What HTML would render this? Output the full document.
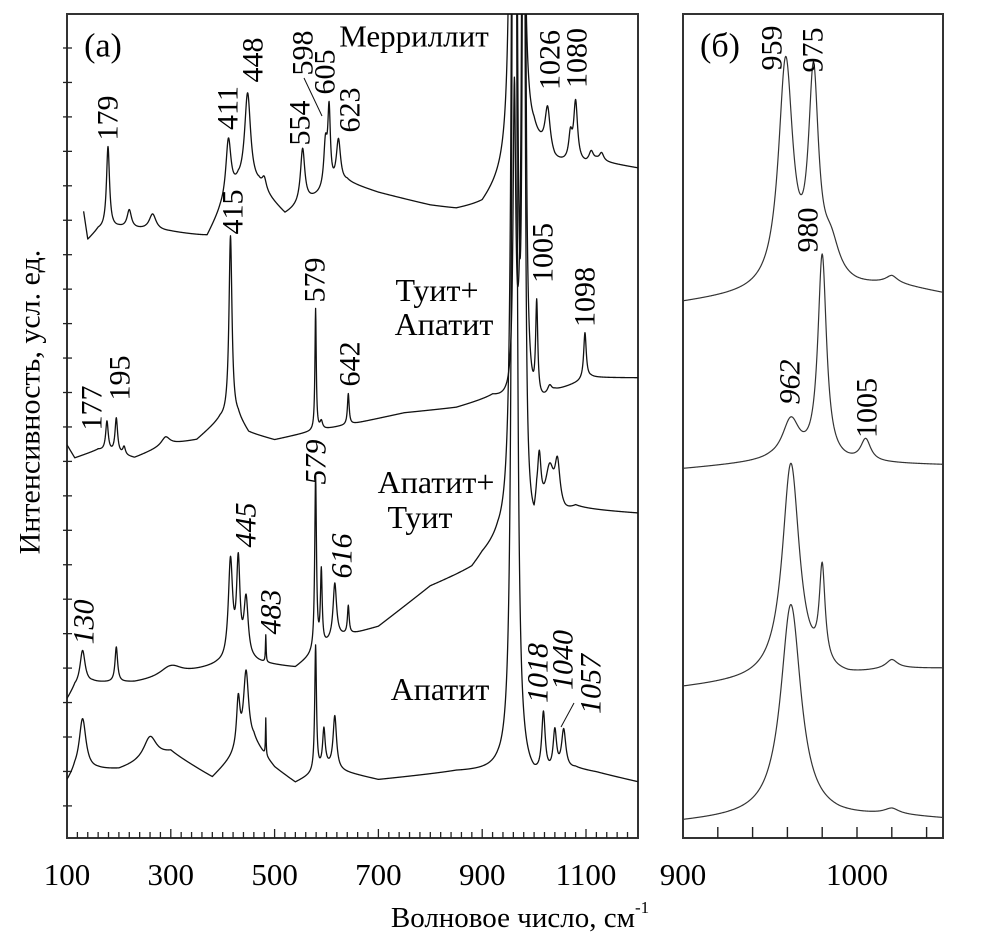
<!DOCTYPE html>
<html><head><meta charset="utf-8"><style>
html,body{margin:0;padding:0;background:#fff;}
svg{display:block;}
svg text{font-family:"Liberation Serif","DejaVu Serif",serif;}
</style></head><body>
<svg id="chart" width="1006" height="944" viewBox="0 0 1006 944" xmlns="http://www.w3.org/2000/svg">
<defs>
<clipPath id="clipA"><rect x="67" y="14" width="571" height="824"/></clipPath>
<clipPath id="clipB"><rect x="683" y="14" width="260" height="824"/></clipPath>
</defs>
<g id="panelA"></g>
<g id="panelB"></g>
<g id="labels"></g>
</svg>
<script>
// ---- Panel (a) data: baselines [wavenumber, intensity] and peaks [center, amplitude, hwhm] ----
const spec1Base = [[132,626],[140,598],[160,608],[200,610],[300,606],[370,601],[395,625],[430,650],[470,650],[520,623],[560,635],[640,655],[700,645],[800,632],[850,628],[900,632],[1000,690],[1040,672],[1100,672],[1120,676],[1242,666]];
const spec1Peaks = [[179,82,3.5],[220,18,5],[265,16,8],[411,60,6],[448,93,7],[480,12,5],[554,55,5],[598,45,4],[605,75,3],[623,45,5],[959,1500,3],[975,1500,3],[1026,45,6],[1070,25,4],[1080,60,4.5],[1110,10,5],[1130,8,5]];
const spec2Base = [[100,393],[115,380],[160,388],[230,380],[290,393],[350,398],[395,418],[430,420],[450,405],[500,398],[560,405],[610,410],[660,415],[750,425],[850,430],[920,440],[1000,425],[1040,445],[1110,460],[1242,460]];
const spec2Peaks = [[177,30,3],[195,35,3],[210,8,3],[290,8,10],[415,183,3.5],[579,122,1.5],[590,8,3],[642,31,2],[962,300,3],[980,1500,2.5],[1005,95,2.5],[1030,8,5],[1098,47,3]];
const spec3Base = [[100,138],[115,150],[150,155],[230,155],[300,160],[390,172],[460,175],[540,170],[620,200],[660,205],[700,211],[800,251],[880,268],[900,280],[930,292],[1000,290],[1005,310],[1060,320],[1080,328],[1242,323]];
const spec3Peaks = [[130,35,6],[195,35,3],[300,12,25],[415,100,5],[430,95,4],[445,60,5],[483,27,0.8],[579,175,2],[590,75,2],[616,55,4],[642,28,2],[962,2500,3],[980,1000,2.5],[1010,50,4],[1030,45,10],[1045,45,6]];
const spec4Base = [[100,55],[115,65],[160,68],[200,68],[300,85],[380,60],[420,80],[460,95],[500,70],[540,55],[600,70],[640,65],[700,58],[850,66],[930,66],[1000,55],[1080,68],[1120,65],[1242,51]];
const spec4Peaks = [[130,53,8],[260,23,15],[430,50,4],[445,75,6],[483,37,0.7],[579,126,2],[595,38,3],[616,53,4],[962,2500,3],[1018,60,4],[1040,40,4],[1057,40,5]];
// ---- Panel (б) data ----
const specB1Base = [[900,535],[950,545],[990,548],[1000,549],[1020,553],[1050,544]];
const specB1Peaks = [[959,225,5],[975,200,3.5],[985,35,6],[1020,6,4]];
const specB2Base = [[900,369],[950,376],[995,374],[1020,374],[1050,373]];
const specB2Peaks = [[962,40,6],[980,205,3],[1005,22,3.5]];
const specB3Base = [[900,150],[950,158],[995,160],[1020,168],[1050,169]];
const specB3Peaks = [[962,215,6],[980,95,2],[1020,8,4]];
const specB4Base = [[900,16],[950,22],[990,20],[1020,22],[1050,19]];
const specB4Peaks = [[962,212,7],[1020,5,5]];
const xTicksA = [100,300,500,700,900,1100];
const xTicksB = [900,1000];

const NS = "http://www.w3.org/2000/svg";
function xA(w){return 67 + (w-100)*0.519;}
function xB(w){return 683 + (w-900)*1.74;}
function yS(v){return 838 - v;}
function interp(base,w){
  if(w<=base[0][0])return base[0][1];
  for(let i=1;i<base.length;i++){if(w<=base[i][0]){const a=base[i-1],b=base[i];return a[1]+(b[1]-a[1])*(w-a[0])/(b[0]-a[0]);}}
  return base[base.length-1][1];
}
function intensity(base,peaks,w){
  let v=interp(base,w);
  for(const p of peaks){const d=w-p[0];v+=p[1]*p[2]*p[2]/(d*d+p[2]*p[2]);}
  return v;
}
function mk(tag,attrs,parent){const e=document.createElementNS(NS,tag);for(const k in attrs)e.setAttribute(k,attrs[k]);parent.appendChild(e);return e;}
function drawSpec(parent,base,peaks,w0,w1,step,xf,name,stroke,sw,clip){
  let d="";
  for(let w=w0;w<=w1;w+=step){const v=intensity(base,peaks,w);d+=(d?"L":"M")+xf(w).toFixed(2)+","+yS(v).toFixed(2);}
  const p=mk("path",{d:d,fill:"none",stroke:stroke,"stroke-width":sw,"clip-path":clip,"stroke-linejoin":"round"},parent);
  
  
}
const gA=document.getElementById("panelA"), gB=document.getElementById("panelB"), gL=document.getElementById("labels");
const fa=mk("rect",{x:67,y:14,width:571,height:824,fill:"none",stroke:"#333","stroke-width":2},gA);


const fb=mk("rect",{x:683,y:14,width:260,height:824,fill:"none",stroke:"#333","stroke-width":2},gB);


drawSpec(gA,spec1Base,spec1Peaks,132,1210,0.5,xA,"merrillite-spectrum","#111",1.3,"url(#clipA)");
drawSpec(gA,spec2Base,spec2Peaks,100,1210,0.5,xA,"tuite-apatite-spectrum","#111",1.3,"url(#clipA)");
drawSpec(gA,spec3Base,spec3Peaks,100,1210,0.5,xA,"apatite-tuite-spectrum","#111",1.3,"url(#clipA)");
drawSpec(gA,spec4Base,spec4Peaks,100,1210,0.5,xA,"apatite-spectrum","#111",1.3,"url(#clipA)");
drawSpec(gB,specB1Base,specB1Peaks,900,1050,0.25,xB,"merrillite-spectrum-zoom","#333",1.2,"url(#clipB)");
drawSpec(gB,specB2Base,specB2Peaks,900,1050,0.25,xB,"tuite-apatite-spectrum-zoom","#333",1.2,"url(#clipB)");
drawSpec(gB,specB3Base,specB3Peaks,900,1050,0.25,xB,"apatite-tuite-spectrum-zoom","#333",1.2,"url(#clipB)");
drawSpec(gB,specB4Base,specB4Peaks,900,1050,0.25,xB,"apatite-spectrum-zoom","#333",1.2,"url(#clipB)");
for(let w=120;w<=1190;w+=20){const major=(w%200===100);const t=mk("line",{x1:xA(w),x2:xA(w),y1:838,y2:major?829:832,stroke:"#222","stroke-width":1.3},gA);

}
for(let y=48;y<=810;y+=34.45){const t=mk("line",{x1:63,x2:72,y1:y,y2:y,stroke:"#222","stroke-width":1.3},gA);

}
for(let w=920;w<=1040;w+=20){const t=mk("line",{x1:xB(w),x2:xB(w),y1:838,y2:827,stroke:"#222","stroke-width":1.4},gB);

}
for(const w of xTicksA){const t=mk("text",{x:xA(w),y:885,"font-size":31,"text-anchor":"middle",fill:"#000","font-family":"Liberation Serif, serif"},gA);t.textContent=w;

}
for(const w of xTicksB){const t=mk("text",{x:xB(w),y:885,"font-size":31,"text-anchor":"middle",fill:"#000","font-family":"Liberation Serif, serif"},gB);t.textContent=w;

}
function txt(s,x,y,size,name,opts){opts=opts||{};const t=mk("text",{x:x,y:y,"font-size":size,"text-anchor":"middle","dominant-baseline":"central",fill:"#000","font-family":"Liberation Serif, serif"},gL);
if(opts.rot)t.setAttribute("transform","rotate(-90 "+x+" "+y+")");
if(opts.it)t.setAttribute("font-style","italic");
t.textContent=s;


return t;}
txt("(a)",103,46,34,"panel-a-label");
txt("(б)",720,46,34,"panel-b-label");
txt("Мерриллит",414,36,31,"label-merrillite");
txt("Туит+",437,290,32,"label-tuite-plus");
txt("Апатит",444,324,32,"label-apatite-1");
txt("Апатит+",436,482,32,"label-apatite-plus");
txt("Туит",420,517,32,"label-tuite");
txt("Апатит",440,689,32,"label-apatite-2");
txt("Интенсивность, усл. ед.",30,402,30,"y-axis-title",{rot:true});
const xt=mk("text",{x:520,y:918,"font-size":29,"text-anchor":"middle","dominant-baseline":"central",fill:"#000","font-family":"Liberation Serif, serif"},gL);


xt.appendChild(document.createTextNode("Волновое число, см"));
const sup=mk("tspan",{"font-size":17,dy:-11},xt);sup.textContent="-1";
const up=[["179",108,118],["411",228,108],["448",253,60],["554",300,123],["598",303,53],["605",325,72],["623",350,110],["1026",550,60],["1080",577,58],["415",233,212],["177",92,408],["195",120,378],["579",315,280],["642",350,364],["1005",543,253],["1098",585,297],["959",772,48],["975",813,50],["980",808,230],["1005",867,408]];
for(const u of up)txt(u[0],u[1],u[2],30,"peak-label-"+u[0],{rot:true});
const upi=[["130",84,622],["445",246,525],["483",271,612],["579",316,462],["616",342,556],["1018",538,673],["1040",563,660],["1057",591,684],["962",790,382]];
for(const u of upi)txt(u[0],u[1],u[2],30,"peak-label-"+u[0],{rot:true,it:true});
const l1=mk("line",{x1:304,y1:78,x2:322,y2:116,stroke:"#111","stroke-width":1},gL);


const l2=mk("line",{x1:574,y1:703,x2:561,y2:727,stroke:"#111","stroke-width":1},gL);


</script>
</body></html>
